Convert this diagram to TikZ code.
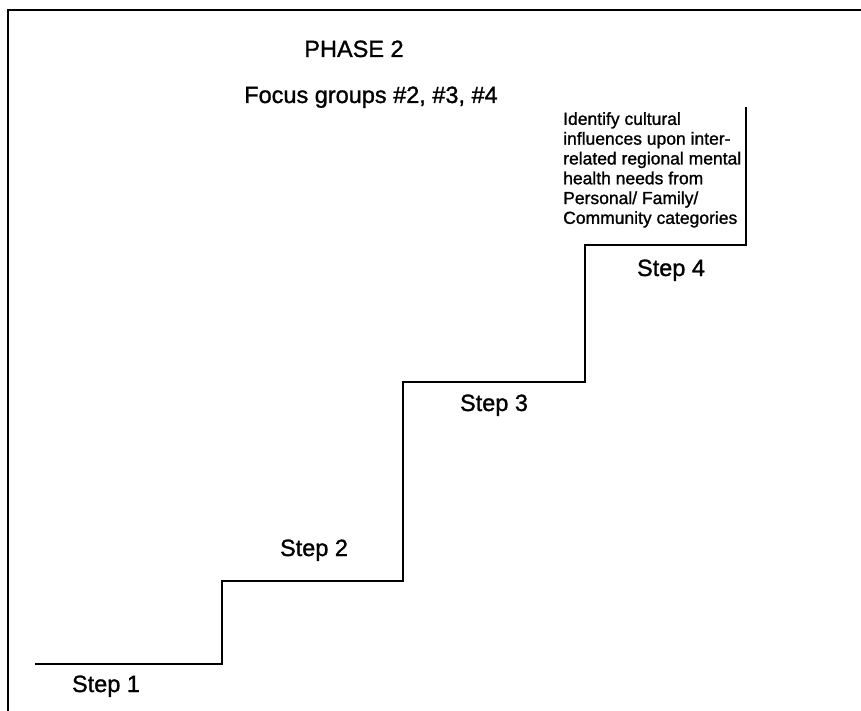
\documentclass[tikz,border=0pt]{standalone}
\usepackage{fontspec}
\setmainfont{Liberation Sans}
\newfontfamily\scanfont[FakeBold=1.2]{Liberation Sans}
\begin{document}
\begin{tikzpicture}[x=1pt,y=-1pt,
  frameline/.style={line width=2pt},
  stairline/.style={line width=2.6pt, line join=miter},
  biglabel/.style={font=\scanfont\fontsize{23.5}{28}\selectfont, inner sep=0pt, anchor=base},
  notetext/.style={font=\scanfont\fontsize{17.5}{19.8}\selectfont, inner sep=0pt, align=left, anchor=north west}]
\useasboundingbox (0,0) rectangle (861,711);
% frame (top and left only)
\coordinate (ftl) at (8,10);
\coordinate (ftr) at (861,10);
\coordinate (fbl) at (8,711);
\draw[frameline] (fbl) -- (ftl) -- (ftr);
% staircase
\coordinate (s0) at (35,664);
\coordinate (s1) at (222,664);
\coordinate (s2) at (222,581);
\coordinate (s3) at (403,581);
\coordinate (s4) at (403,382);
\coordinate (s5) at (585,382);
\coordinate (s6) at (585,245);
\coordinate (s7) at (746,245);
\coordinate (s8) at (746,107);
\draw[stairline] (s0) -- (s1) -- (s2) -- (s3) -- (s4) -- (s5) -- (s6) -- (s7) -- (s8);
% titles
\node[biglabel] (phase) at (354,57) {PHASE 2};
\node[biglabel] (focus) at (371,103) {Focus groups \#2, \#3, \#4};
% step labels
\node[biglabel] (st1) at (106,692) {Step 1};
\node[biglabel] (st2) at (314,556) {Step 2};
\node[biglabel] (st3) at (494,411) {Step 3};
\node[biglabel] (st4) at (671,276) {Step 4};
% note
\node[notetext] (note) at (563,112) {Identify cultural\\influences upon inter-\\related regional mental\\health needs from\\Personal/ Family/\\Community categories};
\end{tikzpicture}
\end{document}
